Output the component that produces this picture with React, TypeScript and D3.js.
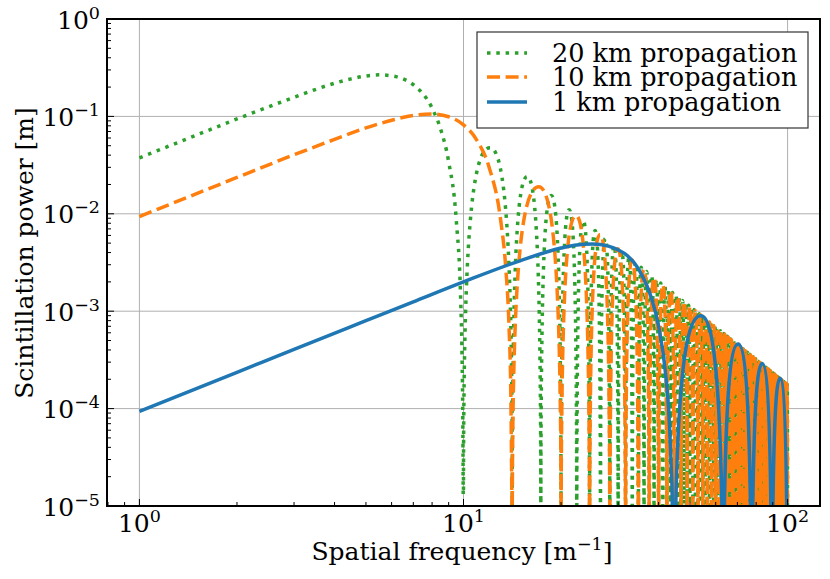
import * as d3 from "d3";

// Series, in drawing order
const seriesLabels = ["20 km propagation", "10 km propagation", "1 km propagation"];

// Smooth rise up to the first null, [spatial frequency, power]
const rise20km: [number, number][] = [
  [1, 0.0375], [1.5, 0.0643], [2, 0.0941], [3, 0.157], [4, 0.219], [4.5, 0.243],
  [5, 0.26], [5.5, 0.267], [6, 0.261], [6.5, 0.243], [7, 0.2115], [8, 0.1215],
  [8.5, 0.0739], [9, 0.0342], [9.5, 0.00856], [9.8, 0.00133], [9.9, 0.00033],
  [9.95, 0.000082], [9.98, 0.000013],
];
const rise10km: [number, number][] = [
  [1, 0.00937], [2, 0.0236], [3, 0.0404], [4, 0.058], [5, 0.0761], [6, 0.0913],
  [7, 0.1025], [8, 0.1058], [9, 0.0991], [10, 0.0819], [11, 0.0568], [12, 0.0299],
  [13, 0.00893], [13.5, 0.00279], [13.8, 0.000778], [14.0, 0.000132], [14.1, 0.0000114],
];
const rise1km: [number, number][] = [
  [1, 0.0000937], [2, 0.000236], [3, 0.000406], [5, 0.0008], [7, 0.00125], [10, 0.002],
  [15, 0.00331], [20, 0.00445], [22, 0.00475], [25, 0.00491], [28, 0.00465], [30, 0.00426],
  [32, 0.00373], [35, 0.00257], [38, 0.00137], [40, 0.0007], [42, 0.000233],
  [43, 0.0000927], [44, 0.0000158],
];

// Nulls of the oscillating part (spatial frequency)
const zeros20km = [
  10.0, 14.14, 17.32, 20.0, 22.36, 24.49, 26.46, 28.28, 30.0, 31.62,
  33.17, 34.64, 36.06, 37.42, 38.73, 40.0, 41.23, 42.43, 43.59, 44.72,
  45.83, 46.9, 47.96, 48.99, 50.0, 50.99, 51.96, 52.92, 53.85, 54.77,
  55.68, 56.57, 57.45, 58.31, 59.16, 60.0, 60.83, 61.64, 62.45, 63.25,
  64.03, 64.81, 65.57, 66.33, 67.08, 67.82, 68.56, 69.28, 70.0, 70.71,
  71.41, 72.11, 72.8, 73.48, 74.16, 74.83, 75.5, 76.16, 76.81, 77.46,
  78.1, 78.74, 79.37, 80.0, 80.62, 81.24, 81.85, 82.46, 83.07, 83.67,
  84.26, 84.85, 85.44, 86.02, 86.6, 87.18, 87.75, 88.32, 88.88, 89.44,
  90.0, 90.55, 91.1, 91.65, 92.2, 92.74, 93.27, 93.81, 94.34, 94.87,
  95.39, 95.92, 96.44, 96.95, 97.47, 97.98, 98.49, 98.99, 99.5, 100.0,
];
const zeros10km = [
  14.14, 20.0, 24.49, 28.28, 31.62, 34.64, 37.42, 40.0, 42.43, 44.72,
  46.9, 48.99, 50.99, 52.92, 54.77, 56.57, 58.31, 60.0, 61.64, 63.25,
  64.81, 66.33, 67.82, 69.28, 70.71, 72.11, 73.48, 74.83, 76.16, 77.46,
  78.74, 80.0, 81.24, 82.46, 83.67, 84.85, 86.02, 87.18, 88.32, 89.44,
  90.55, 91.65, 92.74, 93.81, 94.87, 95.92, 96.95, 97.98, 98.99, 100.0,
];
const zeros1km = [44.72, 63.25, 77.46, 89.44, 100.0];

// Peak power of each lobe between two nulls
const peaks20km = [
  0.0477, 0.0241, 0.0154, 0.011, 0.00844, 0.00675, 0.00558, 0.00472, 0.00407, 0.00356,
  0.00316, 0.00282, 0.00255, 0.00232, 0.00212, 0.00195, 0.0018, 0.00167, 0.00156, 0.00146,
  0.00137, 0.00129, 0.00122, 0.00115, 0.00109, 0.00104, 0.000987, 0.000941, 0.000898, 0.00086,
  0.000823, 0.00079, 0.000758, 0.000729, 0.000702, 0.000676, 0.000652, 0.00063, 0.000609, 0.000589,
  0.00057, 0.000552, 0.000535, 0.000519, 0.000504, 0.00049, 0.000476, 0.000463, 0.00045, 0.000439,
  0.000427, 0.000417, 0.000406, 0.000397, 0.000387, 0.000378, 0.00037, 0.000361, 0.000353, 0.000345,
  0.000338, 0.000331, 0.000324, 0.000317, 0.000311, 0.000304, 0.000298, 0.000293, 0.000287, 0.000282,
  0.000276, 0.000271, 0.000266, 0.000262, 0.000257, 0.000253, 0.000248, 0.000244, 0.00024, 0.000236,
  0.000232, 0.000228, 0.000225, 0.000221, 0.000218, 0.000214, 0.000211, 0.000208, 0.000205, 0.000202,
  0.000199, 0.000196, 0.000193, 0.00019, 0.000188, 0.000185, 0.000183, 0.00018, 0.000178,
];
const peaks10km = [
  0.0189, 0.00958, 0.00612, 0.00437, 0.00335, 0.00268, 0.00221, 0.00187, 0.00162, 0.00141,
  0.00125, 0.00112, 0.00101, 0.000919, 0.000841, 0.000774, 0.000715, 0.000664, 0.000619, 0.000579,
  0.000544, 0.000512, 0.000483, 0.000457, 0.000433, 0.000411, 0.000392, 0.000373, 0.000357, 0.000341,
  0.000327, 0.000313, 0.000301, 0.000289, 0.000279, 0.000268, 0.000259, 0.00025, 0.000241, 0.000234,
  0.000226, 0.000219, 0.000212, 0.000206, 0.0002, 0.000194, 0.000189, 0.000184, 0.000179,
];
const peaks1km = [0.0009, 0.00046, 0.00029, 0.000205];

const rises = [rise20km, rise10km, rise1km];
const zeros = [zeros20km, zeros10km, zeros1km];
const peaks = [peaks20km, peaks10km, peaks1km];

const xTickValues = [1, 10, 100];
const xTickExponents = ["0", "1", "2"];
const yTickValues = [1e-5, 1e-4, 1e-3, 1e-2, 1e-1, 1];
const yTickExponents = ["\u22125", "\u22124", "\u22123", "\u22122", "\u22121", "0"];

// styles
const colors = ["#2ca02c", "#ff7f0e", "#1f77b4"];
const dashes = ["3.5,5.8", "13,5.6", undefined];
const font = { fontFamily: "DejaVu Serif" };

const W = 830;
const H = 579;
const left = 107;
const right = 820;
const top = 19;
const bottom = 506;

export default function App() {
  const x = d3.scaleLog().domain([Math.pow(10, -0.1), Math.pow(10, 2.1)]).range([left, right]);
  const y = d3.scaleLog().domain([1e-5, 1]).range([bottom, top]);
  const dec = (bottom - top) / 5;

  const isMajor = (v: number) => Math.abs(Math.log10(v) - Math.round(Math.log10(v))) < 1e-6;
  const xMinor = x.ticks().filter((v) => !isMajor(v));
  const yMinor = y.ticks().filter((v) => !isMajor(v));

  const buildPath = (rise: [number, number][], zs: number[], ps: number[]) => {
    const ctx = d3.path();
    d3.line<[number, number]>()
      .x((d) => x(d[0]))
      .y((d) => y(d[1]))
      .curve(d3.curveMonotoneX)
      .context(ctx as any)(rise);
    ps.forEach((p, i) => {
      const x0 = x(zs[i]);
      const x1 = x(zs[i + 1]);
      const xp = x((zs[i] + zs[i + 1]) / 2);
      const yp = y(p);
      const yb = yp + 3.5 * dec;
      ctx.lineTo(x0, yb);
      ctx.bezierCurveTo(x0, yp + dec, x0 + 0.3 * (xp - x0), yp, xp, yp);
      ctx.bezierCurveTo(x1 - 0.3 * (x1 - xp), yp, x1, yp + dec, x1, yb);
    });
    return ctx.toString();
  };

  const legendRows = [53, 77, 102];

  return (
    <svg width={W} height={H} style={{ position: "absolute", left: 0, top: 0, background: "#fff" }}>
      <defs>
        <clipPath id="plotClip">
          <rect x={left} y={top} width={right - left} height={bottom - top} />
        </clipPath>
      </defs>

      {/* grid */}
      <g stroke="#b0b0b0" strokeWidth={1}>
        {xTickValues.map((v) => (
          <line key={"gx" + v} x1={x(v)} x2={x(v)} y1={top} y2={bottom} />
        ))}
        {yTickValues.map((v) => (
          <line key={"gy" + v} x1={left} x2={right} y1={y(v)} y2={y(v)} />
        ))}
      </g>

      {/* series */}
      <g clipPath="url(#plotClip)" fill="none">
        {seriesLabels.map((s, i) => (
          <path
            key={s}
            d={buildPath(rises[i], zeros[i], peaks[i])}
            stroke={colors[i]}
            strokeWidth={3.5}
            strokeDasharray={dashes[i]}
            strokeLinejoin="round"
          />
        ))}
      </g>

      {/* ticks */}
      <g stroke="#000" strokeWidth={1}>
        {xTickValues.map((v) => (
          <line key={"tx" + v} x1={x(v)} x2={x(v)} y1={bottom} y2={bottom - 7} />
        ))}
        {xMinor.map((v) => (
          <line key={"mx" + v} x1={x(v)} x2={x(v)} y1={bottom} y2={bottom - 4} />
        ))}
        {yTickValues.map((v) => (
          <line key={"ty" + v} x1={left} x2={left + 7} y1={y(v)} y2={y(v)} />
        ))}
        {yMinor.map((v) => (
          <line key={"my" + v} x1={left} x2={left + 4} y1={y(v)} y2={y(v)} />
        ))}
      </g>

      <rect x={left} y={top} width={right - left} height={bottom - top} fill="none" stroke="#000" strokeWidth={2} />

      {/* tick labels */}
      {xTickValues.map((v, i) => (
        <text key={"lx" + v} x={x(v)} y={532} textAnchor="middle" fontSize={25} style={font}>
          10<tspan fontSize={17.5} dy={-10}>{xTickExponents[i]}</tspan>
        </text>
      ))}
      {yTickValues.map((v, i) => (
        <text key={"ly" + v} x={100} y={y(v) + 9.5} textAnchor="end" fontSize={25} style={font}>
          10<tspan fontSize={17.5} dy={-10}>{yTickExponents[i]}</tspan>
        </text>
      ))}

      {/* axis labels */}
      <text x={462} y={560} textAnchor="middle" fontSize={25} style={font}>
        Spatial frequency [m<tspan fontSize={17.5} dy={-10}>{"\u22121"}</tspan>
        <tspan dy={10}>]</tspan>
      </text>
      <text transform="translate(33,253) rotate(-90)" textAnchor="middle" fontSize={25} style={font}>
        Scintillation power [m]
      </text>

      {/* legend */}
      <rect x={477} y={32} width={331} height={96} fill="#fff" stroke="#333" strokeWidth={1.2} />
      {seriesLabels.map((s, i) => (
        <g key={"lg" + s}>
          <line
            x1={487}
            x2={527}
            y1={legendRows[i]}
            y2={legendRows[i]}
            stroke={colors[i]}
            strokeWidth={3.5}
            strokeDasharray={dashes[i]}
          />
          <text x={552} y={legendRows[i] + 9} fontSize={25.5} style={font}>
            {s}
          </text>
        </g>
      ))}
    </svg>
  );
}
